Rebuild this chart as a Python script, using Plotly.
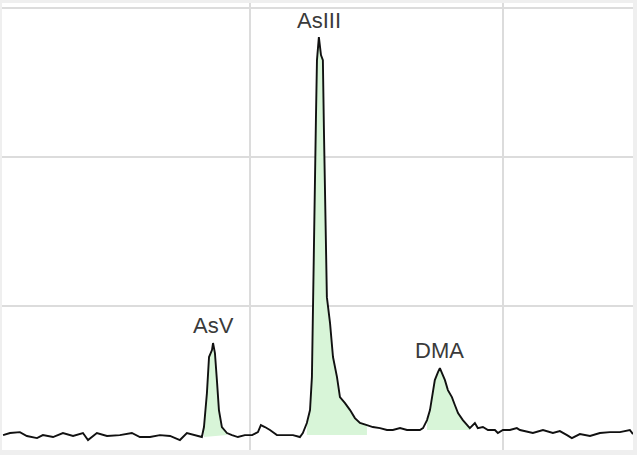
import plotly.graph_objects as go

# Chromatogram: retention time (s) vs. intensity (counts)
time_s = [2.9, 6.2, 10.9, 14.2, 19.0, 21.8, 26.6, 31.3, 36.1, 40.8, 43.2, 47.4, 52.2, 58.3, 64.0,
          67.8, 72.6, 77.3, 82.1, 86.8, 90.1, 93.9, 97.2,
          98.2, 99.6, 100.6, 102.0, 102.5, 103.4, 104.4, 105.3, 106.7, 109.1, 111.5, 114.3, 117.6,
          121.0, 123.8, 125.2, 127.1, 129.5, 132.8, 135.6, 140.4, 143.7,
          145.1, 147.0, 148.5, 149.4, 149.9, 151.3, 151.8, 152.7, 153.7, 154.6, 155.1, 155.6, 156.0,
          156.5, 158.0, 159.4, 161.3, 162.7, 165.1, 167.5, 169.8, 172.2, 175.5, 178.3, 181.7, 185.0,
          187.8, 191.2, 194.5, 197.3, 200.6, 202.1, 204.0, 205.4, 206.8, 207.7, 209.2, 210.1, 211.1,
          212.5, 213.9, 215.8, 217.2, 218.7, 221.0, 222.9, 224.3, 226.7, 228.1, 230.5, 232.9, 236.2,
          237.6, 240.0, 243.3, 246.6, 248.1, 254.2, 259.0, 263.7, 267.0, 270.4, 272.7, 276.5, 281.3,
          286.0, 290.8, 295.5, 300.2, 301.7]
intensity = [134, 148, 154, 128, 114, 134, 121, 148, 128, 148, 101, 148, 128, 134, 148,
             121, 121, 134, 128, 101, 148, 134, 121,
             188, 416, 658, 705, 752, 685, 490, 302, 188, 148, 134, 121, 134,
             134, 154, 201, 188, 168, 134, 134, 134, 121,
             148, 215, 302, 523, 1060, 2248, 2651, 2805, 2685, 2651, 2181, 1711, 1309,
             1060, 886, 658, 523, 389, 349, 302, 248, 215, 201, 188, 181, 168,
             168, 181, 168, 168, 168, 181, 235, 302, 436, 503, 557, 584, 550,
             503, 436, 389, 336, 282, 235, 201, 181, 215, 181, 188, 168, 168,
             148, 168, 168, 181, 168, 148, 168, 148, 161, 134, 114, 141, 128,
             148, 154, 154, 168, 141]

# Integrated peaks: name, window start / end (s), baseline level at start / end, label position
peak_names = ["AsV", "AsIII", "DMA"]
peak_start = [98.2, 147.0, 204.0]
peak_end = [109.1, 175.5, 224.3]
peak_base_start = [121, 134, 168]
peak_base_end = [134, 134, 168]
label_time = [102.5, 152.7, 210.1]
label_int = [872, 2919, 705]

fig = go.Figure()

for name, t0, t1, b0, b1 in zip(peak_names, peak_start, peak_end, peak_base_start, peak_base_end):
    seg = [(t, v) for t, v in zip(time_s, intensity) if t0 <= t <= t1]
    fig.add_trace(go.Scatter(x=[t0, t1], y=[b0, b1], mode="lines",
                             line=dict(width=0), hoverinfo="skip", showlegend=False))
    fig.add_trace(go.Scatter(x=[p[0] for p in seg], y=[p[1] for p in seg], mode="lines",
                             line=dict(width=0), fill="tonexty", fillcolor="#d8f5d8",
                             hoverinfo="skip", showlegend=False, name=name))

fig.add_trace(go.Scatter(x=time_s, y=intensity, mode="lines",
                         line=dict(color="#111111", width=1.9), showlegend=False))

for name, lx, ly in zip(peak_names, label_time, label_int):
    fig.add_annotation(x=lx, y=ly, text=name, showarrow=False,
                       font=dict(family="Liberation Sans, Arial", size=22, color="#3a3a3a"))

fig.update_xaxes(range=[2.4, 301.7], dtick=120, tick0=0, showgrid=True, gridcolor="#dcdcdc",
                 gridwidth=2, showticklabels=False, zeroline=False, showline=False, ticks="")
fig.update_yaxes(range=[34, 3034], dtick=1000, tick0=0, showgrid=True, gridcolor="#dcdcdc",
                 gridwidth=2, showticklabels=False, zeroline=False, showline=False, ticks="")
fig.update_layout(width=637, height=455, margin=dict(l=2, r=4, t=3, b=5),
                  paper_bgcolor="#efefef", plot_bgcolor="#ffffff")

fig.write_html("out.html", config={"displayModeBar": False},
               post_script="document.body.style.margin='0';document.body.style.overflow='hidden';")
